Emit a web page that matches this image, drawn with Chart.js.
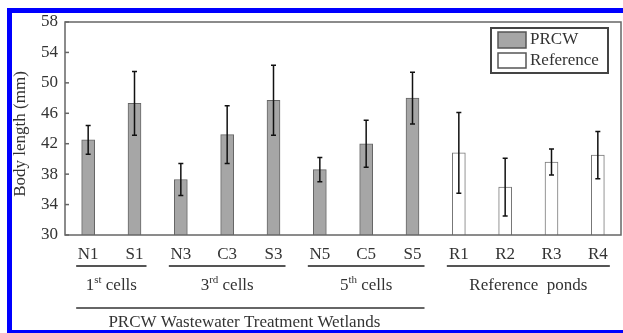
<!DOCTYPE html>
<html>
<head>
<meta charset="utf-8">
<script src="https://cdn.jsdelivr.net/npm/chart.js@4.4.0/dist/chart.umd.min.js"></script>
<style>
  body { margin: 0; background: #fff; }
  canvas { display: block; }
</style>
</head>
<body>
<canvas id="myChart" width="623" height="333"></canvas>
<script>
// categories and values (body length, mm)
var xValues = ["N1", "S1", "N3", "C3", "S3", "N5", "C5", "S5", "R1", "R2", "R3", "R4"];
var prcwValues = [42.5, 47.3, 37.3, 43.2, 47.7, 38.6, 42.0, 48.0, null, null, null, null];
var prcwErrors = [1.9, 4.2, 2.1, 3.8, 4.6, 1.6, 3.1, 3.4, null, null, null, null];
var refValues = [null, null, null, null, null, null, null, null, 40.8, 36.3, 39.6, 40.5];
var refErrors = [null, null, null, null, null, null, null, null, 5.3, 3.8, 1.7, 3.1];
var seriesNames = ["PRCW", "Reference"];
var yTitle = "Body length (mm)";

// groups under the axis: first index, last index, label parts
var groups = [
    { from: 0, to: 1, base: "1", sup: "st", rest: " cells" },
    { from: 2, to: 4, base: "3", sup: "rd", rest: " cells" },
    { from: 5, to: 7, base: "5", sup: "th", rest: " cells" },
    { from: 8, to: 11, base: "Reference  ponds", sup: "", rest: "" }
];
var outerGroup = { from: 0, to: 7, label: "PRCW Wastewater Treatment Wetlands" };

var FONT = "Liberation Serif, Times New Roman, serif";
var TXT = "#333";
var grayFill = "#a6a6a6";
var grayLine = "#666";

function supLabel(ctx, cx, cy, g) {
    ctx.font = "17px " + FONT;
    var w1 = ctx.measureText(g.base).width;
    var w3 = ctx.measureText(g.rest).width;
    ctx.font = "11px " + FONT;
    var w2 = ctx.measureText(g.sup).width;
    var x = cx - (w1 + w2 + w3) / 2;
    ctx.textAlign = "left";
    ctx.textBaseline = "middle";
    ctx.font = "17px " + FONT;
    ctx.fillText(g.base, x, cy);
    ctx.font = "11px " + FONT;
    ctx.fillText(g.sup, x + w1, cy - 6);
    ctx.font = "17px " + FONT;
    ctx.fillText(g.rest, x + w1 + w2, cy);
}

var extras = {
    id: "extras",
    afterDraw: function (chart) {
        var ctx = chart.ctx;
        var a = chart.chartArea;
        var xs = chart.scales.x, ys = chart.scales.y;
        ctx.save();

        // plot box
        ctx.strokeStyle = grayLine;
        ctx.lineWidth = 1.5;
        ctx.strokeRect(a.left, a.top, a.right - a.left, a.bottom - a.top);

        // inward tick marks on y
        ys.ticks.forEach(function (t) {
            var y = ys.getPixelForValue(t.value);
            ctx.beginPath();
            ctx.moveTo(a.left, y);
            ctx.lineTo(a.left + 4, y);
            ctx.stroke();
        });

        // error bars
        var errs = [prcwErrors, refErrors];
        var vals = [prcwValues, refValues];
        ctx.strokeStyle = "#111";
        ctx.lineWidth = 1.5;
        for (var d = 0; d < 2; d++) {
            var meta = chart.getDatasetMeta(d);
            for (var i = 0; i < xValues.length; i++) {
                if (vals[d][i] == null) continue;
                var bx = meta.data[i].x;
                var yt = ys.getPixelForValue(vals[d][i] + errs[d][i]);
                var yb = ys.getPixelForValue(vals[d][i] - errs[d][i]);
                ctx.beginPath();
                ctx.moveTo(bx, yt); ctx.lineTo(bx, yb);
                ctx.moveTo(bx - 2.5, yt); ctx.lineTo(bx + 2.5, yt);
                ctx.moveTo(bx - 2.5, yb); ctx.lineTo(bx + 2.5, yb);
                ctx.stroke();
            }
        }

        // legend
        var lx = a.right - 130, ly = a.top + 6;
        ctx.strokeStyle = "#444";
        ctx.lineWidth = 2;
        ctx.strokeRect(lx, ly, 117, 45);
        ctx.lineWidth = 1.5;
        ctx.fillStyle = grayFill;
        ctx.fillRect(lx + 7, ly + 4, 28, 16);
        ctx.strokeStyle = "#555";
        ctx.strokeRect(lx + 7, ly + 4, 28, 16);
        ctx.fillStyle = "#fff";
        ctx.fillRect(lx + 7, ly + 25, 28, 15);
        ctx.strokeRect(lx + 7, ly + 25, 28, 15);
        ctx.fillStyle = TXT;
        ctx.font = "17px " + FONT;
        ctx.textAlign = "left";
        ctx.textBaseline = "middle";
        ctx.fillText(seriesNames[0], lx + 39, ly + 12);
        ctx.fillText(seriesNames[1], lx + 39, ly + 33);

        // group lines and labels
        ctx.strokeStyle = "#555";
        ctx.lineWidth = 2;
        groups.forEach(function (g) {
            var x1 = xs.getPixelForValue(g.from) - 12;
            var x2 = xs.getPixelForValue(g.to) + 12;
            ctx.beginPath();
            ctx.moveTo(x1, 266); ctx.lineTo(x2, 266);
            ctx.stroke();
            ctx.fillStyle = TXT;
            supLabel(ctx, (x1 + x2) / 2, 286, g);
        });
        var ox1 = xs.getPixelForValue(outerGroup.from) - 12;
        var ox2 = xs.getPixelForValue(outerGroup.to) + 12;
        ctx.strokeStyle = "#333";
        ctx.lineWidth = 1.5;
        ctx.beginPath();
        ctx.moveTo(ox1, 308); ctx.lineTo(ox2, 308);
        ctx.stroke();
        ctx.font = "17px " + FONT;
        ctx.textAlign = "center";
        ctx.fillText(outerGroup.label, (ox1 + ox2) / 2 - 6, 323);

        // y title
        ctx.save();
        ctx.translate(21, 134);
        ctx.rotate(-Math.PI / 2);
        ctx.textAlign = "center";
        ctx.textBaseline = "middle";
        ctx.font = "17px " + FONT;
        ctx.fillText(yTitle, 0, 0);
        ctx.restore();

        // blue frame
        ctx.fillStyle = "#0000ff";
        ctx.fillRect(7, 8, 616, 5);
        ctx.fillRect(7, 8, 5, 325);
        ctx.fillRect(7, 330, 616, 3);

        ctx.restore();
    }
};

new Chart("myChart", {
    type: "bar",
    data: {
        labels: xValues,
        datasets: [{
            label: seriesNames[0],
            data: prcwValues,
            backgroundColor: grayFill,
            borderColor: grayLine,
            borderWidth: 1,
            barThickness: 13,
            skipNull: true
        }, {
            label: seriesNames[1],
            data: refValues,
            backgroundColor: "#fff",
            borderColor: "#777",
            borderWidth: 1,
            barThickness: 13,
            skipNull: true
        }]
    },
    options: {
        responsive: false,
        animation: false,
        layout: { padding: { top: 22, right: 2, left: 0, bottom: 0 } },
        plugins: {
            legend: { display: false },
            tooltip: { enabled: false }
        },
        scales: {
            x: {
                grid: { display: false, drawTicks: false },
                border: { display: false },
                ticks: { font: { family: FONT, size: 17 }, color: TXT, padding: 9 },
                afterFit: function (s) { s.height = 98; }
            },
            y: {
                min: 30,
                max: 58,
                grid: { display: false, drawTicks: false },
                border: { display: false },
                ticks: { stepSize: 4, font: { family: FONT, size: 17 }, color: TXT, padding: 7 },
                afterFit: function (s) { s.width = 65; }
            }
        }
    },
    plugins: [extras]
});
</script>
</body>
</html>
